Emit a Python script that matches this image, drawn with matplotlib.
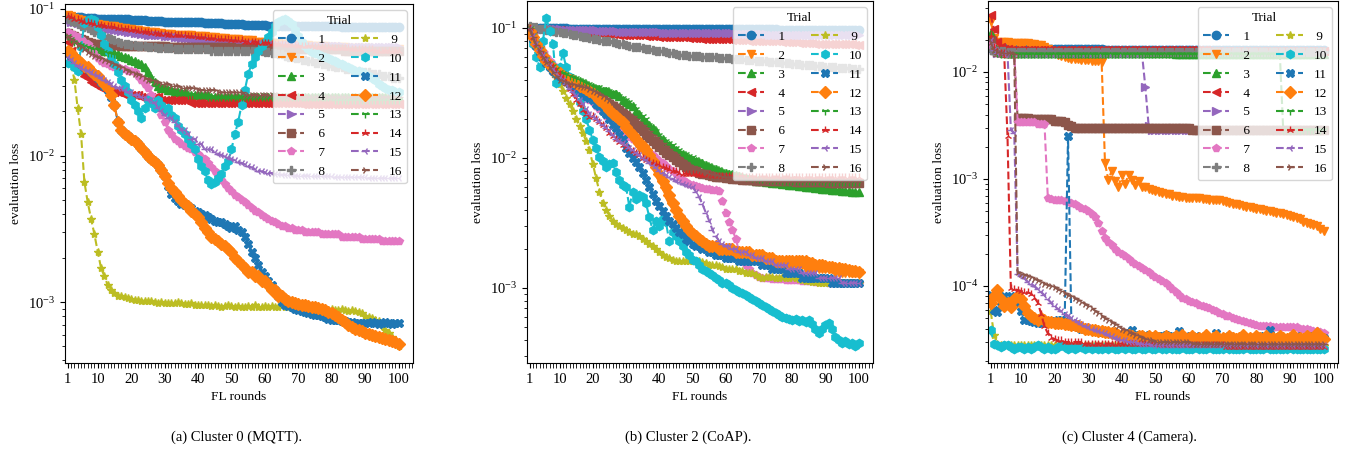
import matplotlib
matplotlib.use('Agg')
import matplotlib.pyplot as plt
from matplotlib.ticker import MultipleLocator, FixedLocator

plt.rcParams['font.family'] = ['Liberation Serif', 'DejaVu Serif']
plt.rcParams['mathtext.fontset'] = 'stix'
plt.rcParams['font.size'] = 9.7

rounds = list(range(1, 101))
trials = [str(i) for i in range(1, 17)]
xtick_vals = [1, 10, 20, 30, 40, 50, 60, 70, 80, 90, 100]
captions = ['(a) Cluster 0 (MQTT).', '(b) Cluster 2 (CoAP).', '(c) Cluster 4 (Camera).']

# ---------------- Cluster 0 (MQTT) ----------------
a1 = [.089,.089,.088,.088,.088,.087,.087,.087,.087,.086,
      .086,.086,.086,.086,.085,.085,.085,.085,.085,.084,
      .084,.084,.084,.084,.083,.083,.083,.083,.083,.082,
      .082,.082,.082,.082,.082,.081,.081,.081,.081,.081,
      .081,.080,.080,.080,.080,.080,.080,.079,.079,.079,
      .079,.079,.079,.078,.078,.078,.078,.078,.078,.078,
      .077,.077,.077,.077,.077,.077,.077,.077,.077,.077,
      .076,.076,.076,.076,.076,.076,.076,.076,.076,.076,
      .076,.076,.075,.075,.075,.075,.075,.075,.075,.075,
      .075,.075,.075,.075,.075,.075,.075,.075,.075,.075]
a2 = [.091,.089,.087,.085,.084,.083,.082,.081,.080,.079,
      .078,.078,.077,.076,.076,.075,.074,.074,.073,.073,
      .072,.072,.071,.071,.070,.070,.070,.069,.069,.068,
      .068,.068,.067,.067,.067,.066,.066,.066,.065,.065,
      .065,.065,.064,.064,.064,.063,.063,.063,.062,.062,
      .062,.062,.061,.061,.061,.061,.060,.060,.060,.060,
      .059,.059,.059,.059,.058,.058,.058,.058,.057,.057,
      .057,.057,.057,.056,.056,.056,.056,.056,.055,.055,
      .055,.055,.055,.055,.054,.054,.054,.054,.054,.054,
      .054,.053,.053,.053,.053,.053,.053,.053,.053,.053]
a3 = [.070,.067,.064,.062,.060,.058,.057,.056,.055,.054,
      .053,.052,.052,.051,.050,.049,.048,.047,.046,.045,
      .044,.043,.042,.040,.037,.034,.032,.030,.029,.029,
      .028,.028,.027,.027,.027,.027,.026,.026,.026,.026,
      .026,.026,.026,.025,.025,.025,.025,.025,.025,.025,
      .025,.025,.025,.025,.025,.025,.025,.025,.025,.025,
      .025,.025,.025,.025,.025,.025,.025,.025,.025,.025,
      .025,.025,.025,.025,.025,.025,.025,.025,.025,.025,
      .025,.025,.025,.025,.025,.025,.025,.025,.025,.025,
      .025,.025,.025,.025,.025,.025,.025,.025,.025,.025]
a4 = [.060,.052,.045,.040,.037,.035,.034,.032,.031,.030,
      .029,.029,.028,.028,.027,.027,.027,.026,.026,.026,
      .026,.026,.025,.025,.025,.025,.025,.025,.024,.024,
      .024,.024,.024,.024,.024,.024,.024,.023,.023,.023,
      .023,.023,.023,.023,.023,.023,.023,.023,.023,.023,
      .023,.023,.023,.023,.023,.023,.023,.023,.023,.023,
      .023,.023,.023,.023,.023,.023,.023,.023,.023,.023,
      .0225,.0225,.0225,.0225,.0225,.0225,.0225,.0225,.0225,.0225,
      .0225,.0225,.0225,.0225,.0225,.0225,.0225,.0225,.0225,.0225,
      .0225,.0225,.0225,.0225,.0225,.0225,.0225,.0225,.0225,.0225]
a5 = [.084,.082,.081,.080,.079,.078,.077,.076,.076,.075,
      .074,.074,.073,.073,.072,.072,.071,.071,.070,.070,
      .069,.069,.068,.068,.067,.067,.066,.066,.066,.065,
      .065,.065,.064,.064,.063,.063,.063,.062,.062,.062,
      .061,.061,.061,.060,.060,.060,.060,.059,.059,.059,
      .059,.059,.058,.058,.058,.058,.058,.058,.058,.058,
      .057,.057,.057,.057,.057,.057,.057,.057,.057,.057,
      .057,.056,.056,.056,.056,.056,.056,.056,.056,.056,
      .056,.056,.056,.055,.055,.055,.055,.055,.055,.055,
      .055,.055,.055,.055,.055,.055,.055,.055,.055,.055]
a6 = [.069,.067,.065,.063,.062,.061,.060,.059,.058,.058,
      .058,.057,.057,.057,.057,.057,.056,.056,.056,.056,
      .056,.056,.056,.056,.056,.056,.056,.056,.056,.056,
      .055,.055,.055,.055,.055,.055,.055,.055,.055,.055,
      .055,.055,.055,.055,.055,.055,.055,.055,.055,.055,
      .054,.054,.054,.054,.054,.054,.054,.054,.054,.054,
      .054,.054,.054,.054,.054,.053,.053,.053,.053,.053,
      .053,.053,.053,.053,.053,.053,.053,.053,.053,.053,
      .053,.053,.053,.052,.052,.052,.052,.052,.052,.052,
      .052,.052,.052,.052,.052,.052,.052,.052,.052,.052]
a7 = [.070,.068,.066,.064,.062,.060,.058,.054,.050,.046,
      .044,.043,.042,.041,.040,.040,.039,.039,.038,.038,
      .037,.035,.033,.031,.029,.026,.023,.021,.019,.017,
      .015,.014,.013,.0125,.012,.0117,.0113,.011,.0106,.0102,
      .0098,.0094,.0089,.0084,.0079,.0073,.0068,.0064,.0060,.0057,
      .0054,.0052,.0050,.0048,.0046,.0044,.0042,.0041,.0039,.0038,
      .0037,.0036,.0035,.0034,.0033,.0033,.0032,.0032,.0031,.0031,
      .0031,.0030,.0030,.0030,.0030,.0030,.0029,.0029,.0029,.0029,
      .0029,.0029,.0028,.0028,.0028,.0028,.0028,.0028,.0027,.0027,
      .0027,.0027,.0027,.0027,.0026,.0026,.0026,.0026,.0026,.0026]
a8 = [.085,.083,.081,.079,.077,.075,.074,.072,.070,.069,
      .067,.065,.063,.062,.061,.060,.059,.058,.058,.057,
      .057,.056,.056,.056,.055,.055,.055,.054,.054,.054,
      .054,.054,.053,.053,.053,.053,.053,.053,.053,.053,
      .053,.053,.053,.052,.052,.052,.052,.052,.052,.052,
      .052,.052,.052,.052,.052,.052,.052,.052,.052,.051,
      .051,.050,.050,.049,.049,.048,.047,.047,.046,.046,
      .045,.045,.044,.044,.043,.043,.042,.042,.041,.041,
      .040,.040,.040,.039,.039,.038,.038,.038,.037,.037,
      .037,.036,.036,.036,.035,.035,.035,.034,.034,.034]
a9 = [.050,.042,.033,.021,.014,.0066,.0048,.0037,.0029,.0022,
      .0017,.0015,.0013,.0012,.00115,.0011,.0011,.00108,.00106,.00105,
      .00104,.00103,.00102,.00102,.00101,.00101,.0010,.00099,.0010,.00099,
      .00099,.00098,.00099,.0010,.00098,.00097,.00097,.00098,.00096,.00096,
      .00095,.00096,.00095,.00094,.00095,.00094,.00093,.00094,.00095,.00094,
      .00093,.00094,.00093,.00092,.00094,.00093,.00095,.00093,.00092,.00094,
      .00093,.00094,.00092,.00093,.00095,.00092,.00092,.00091,.00093,.00092,
      .00091,.00092,.00091,.0009,.00091,.0009,.00091,.0009,.00089,.0009,
      .00089,.00088,.0009,.00088,.00087,.00088,.00087,.00086,.00084,.0008,
      .00079,.00078,.00076,.00074,.0007,.00064,.00062,.00058,.00054,.0005]
a10 = [.043,.047,.040,.038,.055,.080,.084,.085,.084,.075,
       .066,.058,.052,.047,.042,.037,.033,.030,.027,.024,
       .022,.020,.018,.021,.024,.023,.021,.024,.022,.020,
       .021,.019,.018,.016,.015,.014,.013,.012,.011,.0095,
       .0085,.0078,.0068,.0064,.0066,.0070,.0075,.0085,.0092,.011,
       .014,.017,.022,.028,.036,.042,.047,.052,.056,.060,
       .064,.070,.076,.081,.084,.085,.083,.079,.072,.065,
       .060,.056,.053,.051,.050,.049,.048,.047,.046,.045,
       .044,.043,.042,.041,.040,.039,.038,.038,.037,.036,
       .035,.034,.033,.031,.030,.029,.028,.028,.027,.027]
a11 = [.050,.048,.046,.044,.042,.040,.039,.037,.036,.034,
       .032,.030,.028,.025,.022,.017,.015,.014,.0135,.013,
       .0125,.012,.0112,.0105,.0100,.0095,.0090,.0086,.0080,.0072,
       .0062,.0055,.0051,.0049,.0047,.0046,.0045,.0044,.0042,.0041,
       .0040,.0039,.0038,.0037,.0036,.0035,.0035,.0034,.0033,.0032,
       .0033,.0031,.0030,.0028,.0025,.0022,.0020,.0018,.0016,.0015,
       .0014,.0013,.0012,.0011,.00100,.00096,.00094,.00092,.00090,.00088,
       .00087,.00085,.00084,.00083,.00082,.00081,.0008,.00079,.00077,.00076,
       .00075,.00075,.00074,.00074,.00073,.00073,.00072,.00072,.00072,.00072,
       .00072,.00073,.00072,.00071,.00072,.00073,.00072,.00071,.00072,.00072]
a12 = [.052,.050,.047,.045,.043,.041,.040,.038,.036,.035,
       .033,.031,.029,.026,.022,.017,.015,.014,.0135,.013,
       .0125,.012,.0112,.0105,.010,.0095,.009,.0086,.0080,.0072,
       .0065,.0060,.0056,.0053,.0050,.0047,.0045,.0042,.0040,.0038,
       .0035,.0032,.0030,.0028,.0027,.0026,.0025,.0024,.0023,.0022,
       .0020,.0019,.0018,.0017,.0016,.0016,.0015,.0015,.0014,.0014,
       .0013,.0012,.0012,.0011,.0011,.00105,.00102,.0010,.00098,.00097,
       .00096,.00095,.00094,.00093,.00092,.00091,.0009,.00088,.00086,.00084,
       .00081,.00079,.00076,.00073,.0007,.00068,.00066,.00064,.00063,.00062,
       .00061,.0006,.00059,.00058,.00057,.00056,.00055,.00054,.00053,.00052]
a13 = [.065,.062,.060,.058,.057,.056,.055,.054,.053,.053,
       .052,.051,.050,.050,.049,.048,.047,.046,.045,.044,
       .043,.042,.041,.039,.036,.034,.032,.031,.030,.029,
       .029,.028,.028,.027,.027,.027,.026,.026,.026,.026,
       .026,.026,.025,.025,.025,.025,.025,.025,.025,.025,
       .025,.025,.025,.025,.025,.025,.025,.025,.025,.025,
       .025,.025,.025,.025,.025,.025,.025,.025,.025,.025,
       .025,.025,.025,.025,.025,.025,.025,.025,.025,.025,
       .024,.024,.024,.024,.024,.024,.024,.024,.024,.024,
       .024,.024,.024,.024,.024,.024,.024,.024,.024,.024]
a14 = [.090,.088,.086,.085,.083,.082,.081,.080,.079,.078,
       .078,.077,.076,.076,.075,.074,.074,.073,.073,.072,
       .072,.071,.071,.070,.070,.069,.069,.068,.068,.068,
       .067,.067,.067,.066,.066,.066,.065,.065,.065,.064,
       .064,.064,.063,.063,.063,.062,.062,.062,.062,.061,
       .061,.061,.061,.060,.060,.060,.060,.059,.059,.059,
       .059,.058,.058,.058,.058,.057,.057,.057,.057,.056,
       .056,.056,.056,.056,.055,.055,.055,.055,.055,.054,
       .054,.054,.054,.054,.054,.053,.053,.053,.053,.053,
       .053,.053,.052,.052,.052,.052,.052,.052,.052,.052]
a15 = [.047,.045,.043,.041,.040,.039,.038,.037,.036,.035,
       .034,.033,.032,.031,.030,.029,.029,.028,.027,.027,
       .026,.026,.025,.025,.024,.024,.023,.021,.020,.019,
       .018,.018,.017,.016,.015,.015,.014,.013,.013,.012,
       .012,.011,.011,.011,.0105,.0103,.0101,.0099,.0097,.0095,
       .0093,.0091,.0089,.0087,.0085,.0083,.0081,.0079,.0078,.0077,
       .0076,.0076,.0075,.0075,.0074,.0074,.0074,.0074,.0073,.0073,
       .0073,.0073,.0073,.0072,.0072,.0072,.0072,.0072,.0072,.0072,
       .0071,.0071,.0071,.0071,.0071,.0071,.0071,.0071,.0071,.0071,
       .0070,.0070,.0070,.0070,.0070,.0070,.0070,.0070,.0070,.0070]
a16 = [.065,.062,.060,.057,.055,.053,.051,.049,.048,.047,
       .046,.045,.044,.043,.042,.041,.040,.039,.038,.037,
       .036,.036,.035,.034,.033,.033,.032,.032,.031,.031,
       .031,.030,.030,.030,.029,.029,.029,.029,.029,.028,
       .028,.028,.028,.028,.028,.027,.027,.027,.027,.027,
       .027,.027,.027,.026,.026,.026,.026,.026,.026,.026,
       .026,.026,.026,.026,.025,.025,.025,.025,.025,.025,
       .025,.025,.025,.025,.025,.025,.025,.025,.025,.025,
       .025,.025,.025,.025,.025,.025,.025,.025,.025,.025,
       .025,.025,.025,.025,.025,.025,.025,.025,.025,.025]

# ---------------- Cluster 2 (CoAP) ----------------
b1 = [.100,.100,.100,.100,.100,.100,.100,.100,.100,.100,
      .100,.100,.099,.099,.099,.099,.099,.099,.099,.099,
      .099,.099,.099,.099,.099,.099,.099,.099,.099,.099,
      .099,.099,.099,.099,.099,.098,.098,.098,.098,.098,
      .098,.098,.098,.098,.098,.098,.098,.098,.098,.098,
      .098,.098,.098,.098,.098,.098,.098,.098,.098,.098,
      .098,.098,.098,.098,.098,.098,.098,.098,.098,.098,
      .098,.098,.098,.098,.098,.097,.097,.097,.097,.097,
      .097,.097,.097,.097,.097,.097,.097,.097,.097,.097,
      .097,.097,.097,.097,.097,.097,.097,.097,.097,.097]
b2 = [.095,.083,.074,.066,.060,.055,.051,.048,.046,.044,
      .042,.040,.039,.038,.036,.035,.034,.032,.031,.030,
      .028,.027,.025,.024,.022,.021,.020,.019,.018,.0165,
      .015,.014,.013,.012,.0113,.0105,.0097,.0088,.0078,.0069,
      .0061,.0054,.0047,.0041,.0037,.0033,.0030,.0028,.0026,.0025,
      .0024,.0023,.0022,.0021,.0020,.0020,.0020,.0019,.0019,.0019,
      .0019,.0019,.0018,.0018,.0018,.0018,.0018,.0017,.0017,.0017,
      .0017,.0016,.0016,.0016,.0016,.0015,.0015,.0015,.0015,.0015,
      .0015,.0015,.0015,.0014,.0014,.0014,.0014,.0014,.0014,.0014,
      .0014,.0014,.0013,.0013,.0013,.0013,.0013,.0013,.0013,.0013]
b3 = [.100,.085,.075,.068,.062,.057,.053,.050,.047,.045,
      .044,.043,.042,.041,.040,.039,.038,.037,.036,.035,
      .034,.034,.033,.033,.032,.031,.031,.030,.028,.027,
      .026,.025,.023,.022,.020,.019,.018,.017,.016,.0145,
      .014,.013,.0125,.012,.0115,.011,.0107,.0103,.0100,.0097,
      .0095,.0093,.0091,.0089,.0086,.0084,.0082,.0080,.0078,.0077,
      .0076,.0075,.0074,.0073,.0071,.0070,.0069,.0068,.0067,.0066,
      .0066,.0065,.0065,.0064,.0064,.0064,.0063,.0063,.0062,.0062,
      .0062,.0061,.0061,.0060,.0060,.0060,.0059,.0059,.0058,.0058,
      .0058,.0057,.0057,.0057,.0056,.0056,.0056,.0055,.0055,.0055]
b4 = [.100,.099,.099,.098,.098,.097,.097,.097,.096,.096,
      .095,.095,.095,.094,.094,.093,.093,.093,.092,.092,
      .092,.091,.091,.091,.090,.090,.090,.089,.089,.089,
      .089,.088,.088,.088,.088,.087,.087,.087,.087,.086,
      .086,.086,.086,.085,.085,.085,.085,.085,.084,.084,
      .084,.084,.083,.083,.083,.083,.083,.082,.082,.082,
      .082,.081,.081,.081,.081,.081,.080,.080,.080,.080,
      .080,.079,.079,.079,.079,.079,.078,.078,.078,.078,
      .078,.077,.077,.077,.077,.077,.076,.076,.076,.076,
      .076,.075,.075,.075,.075,.075,.075,.075,.074,.074]
b5 = [.100,.100,.099,.099,.099,.098,.098,.098,.098,.098,
      .097,.097,.097,.097,.097,.096,.096,.096,.096,.096,
      .096,.095,.095,.095,.095,.095,.095,.094,.094,.094,
      .094,.094,.094,.093,.093,.093,.093,.093,.093,.093,
      .092,.092,.092,.092,.092,.092,.092,.092,.092,.092,
      .092,.092,.092,.091,.091,.091,.091,.091,.091,.091,
      .091,.091,.090,.090,.090,.090,.090,.090,.090,.090,
      .090,.090,.089,.089,.089,.089,.089,.089,.089,.089,
      .089,.089,.089,.089,.089,.088,.088,.088,.088,.088,
      .088,.088,.088,.088,.088,.088,.088,.088,.088,.088]
b6 = [.100,.087,.076,.068,.062,.057,.052,.048,.045,.042,
      .040,.039,.038,.037,.036,.035,.034,.033,.032,.031,
      .030,.029,.028,.027,.026,.025,.024,.023,.022,.021,
      .020,.019,.018,.017,.016,.015,.0142,.0135,.0128,.0121,
      .0115,.011,.0105,.0101,.0097,.0093,.0089,.0086,.0083,.0081,
      .0079,.0077,.0076,.0075,.0074,.0073,.0072,.0071,.0071,.0070,
      .0070,.0069,.0069,.0069,.0068,.0068,.0068,.0068,.0067,.0067,
      .0067,.0067,.0067,.0066,.0066,.0066,.0066,.0066,.0066,.0066,
      .0065,.0065,.0065,.0065,.0065,.0065,.0065,.0065,.0065,.0065,
      .0064,.0064,.0064,.0064,.0064,.0064,.0064,.0064,.0064,.0064]
b7 = [.100,.088,.078,.070,.065,.060,.056,.052,.048,.045,
      .043,.041,.039,.037,.035,.033,.031,.030,.028,.027,
      .025,.024,.023,.021,.020,.019,.018,.017,.016,.015,
      .0145,.014,.0135,.013,.012,.0115,.011,.0105,.010,.0095,
      .0091,.0087,.0083,.0079,.0075,.0071,.0068,.0065,.0063,.0062,
      .0061,.0060,.0059,.0058,.0058,.0057,.0057,.0056,.0047,.0038,
      .0032,.0028,.0024,.0019,.0016,.0015,.0014,.0013,.00125,.00122,
      .0012,.0012,.00119,.00118,.00118,.00117,.00117,.00116,.00116,.00116,
      .00115,.00115,.00114,.00114,.00113,.00113,.00112,.00112,.00111,.00111,
      .0011,.0011,.0011,.0011,.00109,.00109,.00109,.00109,.00109,.00109]
b8 = [.103,.102,.101,.099,.0985,.097,.096,.095,.094,.093,
      .092,.091,.090,.089,.088,.087,.086,.085,.084,.083,
      .082,.081,.080,.080,.079,.078,.077,.076,.075,.074,
      .073,.072,.072,.071,.070,.069,.069,.068,.067,.066,
      .066,.065,.064,.064,.063,.062,.062,.062,.061,.061,
      .061,.061,.060,.060,.060,.060,.060,.059,.059,.059,
      .059,.058,.058,.058,.058,.057,.057,.057,.056,.056,
      .056,.056,.055,.055,.055,.055,.054,.054,.054,.053,
      .053,.053,.052,.052,.052,.052,.051,.051,.051,.050,
      .050,.050,.050,.049,.049,.049,.049,.048,.048,.048]
b9 = [.100,.088,.078,.070,.062,.055,.050,.046,.042,.037,
      .033,.029,.026,.023,.020,.0175,.0155,.0135,.0115,.0090,
      .0070,.0055,.0045,.0040,.0036,.0033,.0031,.0030,.0029,.0028,
      .0027,.0026,.0026,.0025,.0024,.0023,.0022,.0021,.0020,.0019,
      .0018,.00174,.0017,.00165,.0016,.0016,.0016,.0016,.0016,.0016,
      .0016,.0016,.00158,.00155,.0015,.0015,.0015,.00148,.00145,.0014,
      .0014,.0014,.0014,.00135,.00135,.0013,.0013,.0013,.00125,.00122,
      .0012,.00122,.00122,.00121,.0012,.0012,.00121,.0012,.0012,.00122,
      .0012,.00118,.00116,.00114,.00113,.00112,.00111,.0011,.00109,.00109,
      .00109,.0011,.0011,.00109,.00109,.0011,.0011,.0011,.0011,.0011]
b10 = [.096,.075,.060,.050,.080,.120,.095,.076,.038,.050,
       .064,.050,.042,.036,.032,.027,.023,.020,.0165,.0138,
       .012,.0102,.0095,.0085,.009,.0092,.0078,.0068,.0062,.006,
       .0042,.0055,.0048,.0052,.005,.0045,.0035,.0028,.0033,.0030,
       .0034,.0032,.0023,.0027,.0025,.0023,.0021,.0019,.0018,.00164,
       .0016,.0015,.0014,.00135,.0013,.00125,.0012,.00115,.0011,.0011,
       .00105,.0010,.00097,.00094,.00091,.00088,.00085,.00082,.0008,.00077,
       .00074,.00072,.00069,.00066,.00064,.00062,.0006,.00059,.00058,.00057,
       .00058,.00056,.00057,.00055,.00057,.00053,.00048,.00045,.00048,.00052,
       .00054,.00048,.00042,.0004,.00038,.00039,.00037,.00038,.00036,.00038]
b11 = [.095,.083,.073,.065,.059,.054,.050,.047,.045,.043,
       .041,.039,.037,.035,.034,.032,.031,.030,.029,.028,
       .026,.025,.023,.022,.020,.018,.017,.015,.014,.012,
       .011,.010,.0093,.0085,.0077,.0068,.0060,.0053,.0047,.0043,
       .0039,.0036,.0033,.0031,.0029,.0027,.0026,.0024,.0023,.0022,
       .0021,.0021,.0020,.0020,.0019,.0019,.0018,.0018,.0018,.0017,
       .0017,.0017,.0017,.0016,.0016,.0016,.0016,.0016,.0016,.0016,
       .0015,.0015,.0015,.0014,.0014,.0014,.0014,.0013,.0013,.0013,
       .0013,.0013,.0012,.0012,.0012,.0012,.0012,.0012,.0012,.0012,
       .0012,.0011,.0011,.0011,.0011,.0011,.0011,.0011,.0011,.0011]
b12 = [.095,.085,.076,.068,.061,.056,.052,.049,.047,.045,
       .043,.041,.040,.039,.038,.036,.035,.034,.033,.0316,
       .030,.028,.027,.025,.0234,.022,.021,.020,.019,.0174,
       .016,.015,.014,.013,.0123,.0115,.0105,.0095,.0085,.0075,
       .0067,.0060,.0052,.0045,.0040,.0036,.0033,.0030,.0028,.0026,
       .0025,.0024,.0023,.0022,.0021,.0021,.0021,.0020,.0020,.0020,
       .0020,.0020,.0019,.0019,.0019,.0019,.0019,.0018,.0018,.0018,
       .0018,.0017,.0017,.0017,.0016,.0016,.0016,.0016,.0016,.0016,
       .0016,.0016,.0016,.0016,.00155,.00155,.0015,.0015,.0015,.00148,
       .00146,.00145,.00143,.00142,.0014,.0014,.00138,.00136,.00135,.00133]
b13 = [.100,.088,.077,.069,.063,.058,.054,.051,.048,.046,
       .045,.044,.043,.042,.041,.040,.039,.038,.037,.036,
       .035,.035,.034,.034,.033,.032,.031,.030,.029,.028,
       .027,.025,.024,.022,.021,.020,.018,.017,.016,.015,
       .014,.0135,.013,.0125,.012,.0115,.011,.0107,.0104,.0101,
       .0098,.0095,.0092,.0090,.0088,.0086,.0084,.0082,.0080,.0078,
       .0077,.0076,.0075,.0074,.0073,.0072,.0071,.0070,.0070,.0069,
       .0069,.0069,.0068,.0068,.0068,.0068,.0067,.0067,.0067,.0067,
       .0067,.0066,.0066,.0066,.0066,.0066,.0066,.0066,.0066,.0065,
       .0065,.0065,.0065,.0065,.0065,.0065,.0065,.0065,.0065,.0065]
b14 = [.100,.085,.075,.068,.062,.057,.053,.050,.047,.044,
       .041,.038,.034,.031,.028,.026,.0234,.022,.0207,.021,
       .020,.019,.018,.017,.0155,.0148,.014,.0133,.0127,.0122,
       .0117,.0113,.011,.0105,.010,.0097,.0095,.0092,.009,.0088,
       .0086,.0084,.0082,.0080,.0079,.0077,.0076,.0076,.0075,.0075,
       .0075,.0074,.0074,.0074,.0074,.0073,.0073,.0073,.0073,.0073,
       .0073,.0073,.0073,.0073,.0073,.0072,.0072,.0072,.0072,.0072,
       .0072,.0072,.0072,.0072,.0072,.0072,.0072,.0072,.0072,.0072,
       .0071,.0071,.0071,.0071,.0071,.0071,.0071,.0071,.0071,.0071,
       .0071,.0071,.0071,.0071,.0071,.0071,.0071,.0071,.0071,.0071]
b15 = [.100,.087,.076,.068,.062,.057,.052,.048,.045,.042,
       .040,.037,.034,.032,.030,.028,.026,.024,.022,.021,
       .020,.019,.018,.017,.016,.015,.014,.0135,.013,.0125,
       .012,.0115,.011,.0105,.010,.0096,.0092,.0088,.0084,.0080,
       .0077,.0074,.0071,.0069,.0067,.0065,.0063,.0062,.0061,.0060,
       .0055,.0050,.0044,.0038,.0033,.0028,.0025,.0023,.0022,.0021,
       .0021,.0020,.0020,.0019,.0019,.0019,.0018,.0018,.0017,.0017,
       .0017,.0016,.0016,.0016,.0015,.0015,.0015,.0015,.0014,.0014,
       .0014,.0014,.0013,.0013,.0013,.0013,.0013,.0012,.0012,.0012,
       .0012,.0012,.0012,.0012,.0011,.0011,.0011,.0011,.0011,.0011]
b16 = [.100,.085,.074,.066,.060,.055,.050,.046,.043,.040,
       .039,.038,.037,.037,.036,.036,.035,.035,.034,.033,
       .032,.031,.030,.029,.028,.027,.026,.025,.024,.023,
       .022,.021,.020,.019,.018,.017,.016,.015,.0145,.0138,
       .013,.0124,.0118,.0112,.0107,.0102,.0097,.0093,.0089,.0085,
       .0083,.0081,.0079,.0077,.0076,.0075,.0074,.0073,.0072,.0071,
       .0071,.0070,.0070,.0069,.0069,.0069,.0068,.0068,.0068,.0068,
       .0068,.0067,.0067,.0067,.0067,.0067,.0067,.0067,.0067,.0067,
       .0066,.0066,.0066,.0066,.0066,.0066,.0066,.0066,.0066,.0066,
       .0066,.0066,.0066,.0066,.0066,.0066,.0066,.0066,.0066,.0066]

# ---------------- Cluster 4 (Camera) ----------------
c1 = [.0168,.0167,.0167,.0166,.0166,.0166,.0165,.0165,.0165,.0165,
      .0165,.0165,.0164,.0164,.0164,.0164,.0164,.0164,.0164,.0163,
      .0163,.0163,.0163,.0163,.0163,.0163,.0163,.0163,.0163,.0163,
      .0163,.0163,.0163,.0163,.0162,.0162,.0162,.0162,.0162,.0162,
      .0162,.0162,.0162,.0162,.0162,.0162,.0162,.0162,.0162,.0162,
      .0162,.0162,.0162,.0162,.0162,.0161,.0161,.0161,.0161,.0161,
      .0161,.0161,.0161,.0161,.0161,.0161,.0161,.0161,.0161,.0161,
      .0161,.0161,.0161,.0161,.0161,.0160,.0160,.0160,.0160,.0160,
      .0160,.0160,.0160,.0160,.0160,.0160,.0160,.0160,.0160,.0160,
      .0160,.0160,.0160,.0160,.0160,.0160,.0160,.0160,.0160,.0160]
c2 = [.030,.021,.019,.019,.019,.019,.0188,.0188,.0186,.0186,
      .0185,.0185,.0184,.0183,.018,.0177,.0172,.0165,.0158,.015,
      .0145,.014,.0137,.0135,.0133,.0132,.0131,.013,.013,.0129,
      .0128,.0127,.0126,.0124,.0014,.00098,.0012,.00095,.00084,.0011,
      .0009,.0011,.00098,.00088,.00095,.00085,.00084,.0008,.00079,.00077,
      .00076,.00074,.00073,.00072,.0007,.00069,.00068,.00068,.00067,.00067,
      .00066,.00066,.00066,.00065,.00065,.00064,.00064,.00063,.00063,.00062,
      .00061,.0006,.00059,.00058,.00057,.00056,.00055,.00055,.00054,.00053,
      .00052,.00051,.0005,.0005,.00049,.00048,.00048,.00047,.00046,.00045,
      .00044,.00043,.00042,.0004,.00039,.00038,.00037,.00036,.00034,.00033]
c3 = [.023,.018,.016,.0155,.0153,.0152,.0151,.0151,.0150,.0150,
      .0150,.0150,.0150,.0150,.0150,.0150,.0150,.0150,.0150,.0150,
      .0150,.0150,.0150,.0150,.0150,.0149,.0149,.0149,.0149,.0149,
      .0149,.0149,.0149,.0149,.0149,.0149,.0149,.0149,.0149,.0149,
      .0149,.0149,.0149,.0149,.0149,.0149,.0149,.0149,.0149,.0149,
      .0149,.0149,.0149,.0149,.0149,.0148,.0148,.0148,.0148,.0148,
      .0148,.0148,.0148,.0148,.0148,.0148,.0148,.0148,.0148,.0148,
      .0148,.0148,.0148,.0148,.0148,.0148,.0148,.0148,.0148,.0148,
      .0148,.0148,.0148,.0148,.0148,.0148,.0148,.0148,.0148,.0148,
      .0148,.0148,.0148,.0148,.0148,.0148,.0148,.0148,.0148,.0148]
c4 = [.034,.025,.019,.017,.0165,.0163,.0162,.0162,.0161,.0161,
      .0161,.0161,.0161,.0161,.0161,.0161,.0160,.0160,.0160,.0160,
      .0160,.0160,.0160,.0160,.0160,.0160,.0160,.0160,.0160,.0160,
      .0160,.0160,.0160,.0160,.0159,.0159,.0159,.0159,.0159,.0159,
      .0159,.0159,.0159,.0159,.0159,.0159,.0159,.0159,.0159,.0159,
      .0159,.0159,.0159,.0159,.0159,.0159,.0159,.0159,.0159,.0159,
      .0159,.0159,.0159,.0159,.0159,.0158,.0158,.0158,.0158,.0158,
      .0158,.0158,.0158,.0158,.0158,.0158,.0158,.0158,.0158,.0158,
      .0158,.0158,.0158,.0158,.0158,.0158,.0158,.0158,.0158,.0158,
      .0158,.0158,.0158,.0158,.0158,.0158,.0158,.0158,.0158,.0158]
c5 = [.019,.016,.0152,.0151,.0151,.0150,.0150,.0150,.0150,.0150,
      .0150,.0150,.0150,.0150,.0150,.0150,.0150,.0150,.0150,.0150,
      .0150,.0150,.0150,.0150,.0150,.0150,.0150,.0150,.0150,.0150,
      .0149,.0149,.0149,.0149,.0149,.0149,.0149,.0149,.0149,.0149,
      .0149,.0149,.0149,.0149,.0149,.0149,.0072,.0031,.0029,.0029,
      .0029,.0029,.0029,.0029,.0029,.0029,.0029,.0029,.0029,.0029,
      .0029,.0029,.0029,.0029,.0029,.0029,.0029,.0029,.0029,.0029,
      .0029,.0029,.0029,.0029,.0029,.0029,.0029,.0029,.0029,.0029,
      .0029,.0029,.0029,.0029,.0029,.0029,.0029,.0029,.0029,.0029,
      .0029,.0029,.0029,.0029,.0029,.0029,.0029,.0029,.0029,.0029]
c6 = [.020,.016,.0155,.0153,.0152,.0152,.0151,.0151,.0037,.0037,
      .0037,.0037,.0036,.0036,.0036,.0036,.0036,.0036,.0036,.0035,
      .0035,.0035,.0034,.0032,.0031,.0030,.0030,.0030,.0030,.0030,
      .0030,.0030,.0030,.0030,.0030,.0030,.0030,.0030,.0030,.0030,
      .0030,.0030,.0030,.0030,.0030,.0030,.0030,.0030,.0030,.0030,
      .0030,.0030,.0030,.0030,.0030,.0030,.0030,.0030,.0030,.0030,
      .0029,.0029,.0029,.0029,.0029,.0029,.0029,.0029,.0029,.0029,
      .0029,.0029,.0029,.0029,.0029,.0029,.0029,.0029,.0029,.0029,
      .0029,.0029,.0029,.0029,.0029,.0029,.0029,.0029,.0029,.0029,
      .0029,.0029,.0029,.0029,.0029,.0029,.0029,.0029,.0029,.0029]
c7 = [.018,.016,.0155,.0153,.0152,.0152,.0151,.0151,.0034,.0034,
      .0034,.0034,.0034,.0034,.0033,.0033,.0033,.00066,.00065,.00064,
      .00064,.00063,.00062,.00061,.0006,.00058,.00056,.00054,.00052,.0005,
      .00047,.00044,.00039,.00033,.00028,.00026,.00024,.00022,.00021,.0002,
      .00019,.000178,.000168,.00016,.000154,.000148,.00014,.000134,.000128,.000122,
      .000117,.000112,.000106,.0001,.000094,.000087,.000082,.000078,.000075,.000073,
      .000071,.000069,.000067,.000065,.000064,.000062,.00006,.000058,.000056,.000055,
      .000053,.000052,.00005,.000049,.000048,.000047,.000046,.000045,.000044,.000043,
      .000042,.000042,.000042,.000042,.000041,.000041,.000041,.000041,.000041,.000041,
      .000041,.000041,.00004,.00004,.00004,.000039,.000038,.000038,.000037,.000036]
c8 = [.0160,.0158,.0157,.0156,.0156,.0155,.0155,.0155,.0155,.0155,
      .0155,.0155,.0155,.0155,.0155,.0155,.0155,.0155,.0155,.0155,
      .0155,.0155,.0155,.0155,.0155,.0154,.0154,.0154,.0154,.0154,
      .0154,.0154,.0154,.0154,.0154,.0154,.0154,.0154,.0154,.0154,
      .0154,.0154,.0154,.0154,.0154,.0154,.0154,.0154,.0154,.0154,
      .0154,.0154,.0154,.0154,.0154,.0154,.0154,.0154,.0154,.0154,
      .0153,.0153,.0153,.0153,.0153,.0153,.0153,.0153,.0153,.0153,
      .0153,.0153,.0153,.0153,.0153,.0153,.0153,.0153,.0153,.0153,
      .0153,.0153,.0153,.0153,.0153,.0153,.0153,.0153,.0153,.0153,
      .0153,.0153,.0153,.0153,.0153,.0153,.0153,.0153,.0153,.0153]
c9 = [.000058,.000035,.000029,.000028,.000028,.000028,.000028,.000028,.000028,.000028,
      .000028,.000028,.000028,.000028,.000028,.000028,.000028,.000028,.000028,.000028,
      .000028,.000028,.000028,.000028,.000028,.000028,.000028,.000028,.000028,.000028,
      .000028,.000028,.000028,.000028,.000028,.000028,.000028,.000028,.000028,.000028,
      .000028,.000028,.000028,.000028,.000028,.000028,.000028,.000028,.000028,.000028,
      .0000275,.0000275,.0000275,.0000275,.0000275,.0000275,.0000275,.0000275,.0000275,.0000275,
      .0000275,.0000275,.0000275,.0000275,.0000275,.0000275,.0000275,.0000275,.0000275,.0000275,
      .0000275,.0000275,.0000275,.0000275,.0000275,.0000275,.0000275,.0000275,.0000275,.0000275,
      .0000275,.0000275,.0000275,.0000275,.0000275,.0000275,.0000275,.0000275,.0000275,.0000275,
      .0000275,.0000275,.0000275,.0000275,.0000275,.0000275,.0000275,.0000275,.0000275,.0000275]
c10 = [.000039,.000029,.000028,.000027,.000028,.000028,.000027,.000026,.000027,.000027,
       .000026,.000027,.000026,.000027,.000028,.000027,.000026,.000027,.000026,.000026,
       .000027,.000028,.000027,.000026,.000027,.000026,.000027,.000027,.000026,.000027,
       .000026,.000027,.000026,.000026,.000027,.000026,.000027,.000026,.000026,.000027,
       .000026,.000027,.000026,.000026,.000027,.000026,.000026,.000027,.000026,.000026,
       .000027,.000026,.000026,.000027,.000026,.000026,.000026,.000027,.000026,.000026,
       .000026,.000027,.000026,.000026,.000026,.000027,.000026,.000026,.000026,.000026,
       .000027,.000026,.000026,.000026,.000026,.000026,.000027,.000026,.000026,.000026,
       .000026,.000026,.000027,.000026,.000026,.000026,.000026,.000026,.000026,.000027,
       .000026,.000026,.000026,.000026,.000026,.000026,.000026,.000026,.000026,.000026]
c11 = [.000083,.00006,.000057,.000065,.00008,.00007,.00008,.000075,.00007,.000058,
       .000048,.000048,.000047,.000046,.000045,.000045,.000045,.000045,.000046,.000047,
       .000048,.000048,.000047,.0025,.000044,.000042,.000041,.00004,.00004,.000039,
       .000039,.000038,.000038,.000037,.000037,.000036,.000036,.000036,.000035,.000035,
       .000035,.000036,.000039,.000035,.000034,.000034,.000035,.000034,.000034,.000034,
       .000034,.000034,.000035,.000034,.000034,.000034,.000038,.000034,.000034,.000033,
       .000033,.000034,.000033,.000033,.000034,.000033,.000033,.000036,.000033,.000033,
       .000033,.000034,.000033,.000033,.000033,.000034,.000033,.000033,.000033,.000033,
       .000034,.000033,.000033,.000039,.000033,.000033,.000034,.000033,.000033,.000033,
       .000033,.000034,.000033,.000033,.000033,.000033,.000034,.000033,.000033,.000033]
c12 = [.000069,.00008,.000092,.000075,.000065,.00007,.000064,.000075,.00008,.000076,
       .000065,.000056,.000052,.00005,.000048,.00005,.000048,.000046,.000046,.000045,
       .000045,.000045,.000044,.000044,.000043,.000043,.000042,.000041,.00004,.00004,
       .000039,.000039,.000038,.000038,.000037,.000037,.000036,.000036,.000035,.000035,
       .000034,.000035,.000034,.000033,.000034,.000034,.000033,.000034,.000033,.000034,
       .000033,.000032,.000034,.000033,.000032,.000034,.000033,.000035,.000032,.000033,
       .000034,.000032,.000033,.000033,.000035,.000032,.000033,.000034,.000032,.000033,
       .000032,.000034,.000033,.000032,.000033,.000035,.000032,.000033,.000032,.000034,
       .000033,.000032,.000034,.000032,.000033,.000032,.000034,.000033,.000032,.000033,
       .000035,.000032,.000033,.000032,.000034,.000033,.000032,.000036,.000032,.000032]
c13 = [.021,.016,.0150,.0148,.0148,.0148,.0148,.0148,.0148,.0148,
       .0148,.0148,.0148,.0148,.0148,.0148,.0148,.0148,.0148,.0148,
       .0148,.0148,.0148,.0148,.0148,.0148,.0148,.0148,.0148,.0148,
       .0148,.0148,.0148,.0148,.0148,.0148,.0148,.0148,.0148,.0148,
       .0148,.0148,.0148,.0148,.0148,.0148,.0148,.0148,.0148,.0148,
       .0148,.0148,.0148,.0148,.0148,.0148,.0148,.0148,.0148,.0148,
       .0147,.0147,.0147,.0147,.0147,.0147,.0147,.0147,.0147,.0147,
       .0147,.0147,.0147,.0147,.0147,.0147,.0147,.0147,.0147,.0147,
       .0147,.0147,.0147,.0147,.0147,.0147,.0147,.0029,.0029,.0029,
       .0029,.0029,.0029,.0029,.0029,.0029,.0029,.0029,.0029,.0029]
c14 = [.022,.017,.0155,.0152,.0151,.0025,.000095,.000093,.000092,.00009,
       .000088,.000087,.000085,.000078,.00007,.000055,.000042,.000036,.000033,.000032,
       .000031,.000031,.00003,.00003,.00003,.00003,.00003,.00003,.000029,.000029,
       .000029,.000029,.000029,.000029,.000029,.000029,.000029,.000029,.000029,.000029,
       .000029,.000029,.000029,.000029,.000029,.000029,.000029,.000029,.000029,.000029,
       .000028,.000028,.000028,.000028,.000028,.000028,.000028,.000028,.000028,.000028,
       .000028,.000028,.000028,.000028,.000028,.000028,.000028,.000028,.000028,.000028,
       .000027,.000027,.000027,.000027,.000027,.000027,.000027,.000027,.000027,.000027,
       .000027,.000027,.000027,.000027,.000027,.000027,.000027,.000027,.000027,.000027,
       .000027,.000027,.000027,.000027,.000027,.000027,.000027,.000027,.000027,.000027]
c15 = [.020,.016,.0152,.0151,.0150,.0150,.0029,.0027,.00013,.000125,
       .000118,.00011,.000105,.0001,.000094,.000088,.000082,.000075,.00007,.000065,
       .000061,.000058,.000055,.000053,.00005,.000048,.000046,.000044,.000042,.000041,
       .00004,.000039,.000038,.000037,.000036,.000035,.000034,.000033,.000032,.000031,
       .000031,.00003,.00003,.00003,.000029,.000029,.000029,.000029,.000028,.000028,
       .000028,.000028,.000028,.000028,.000028,.000028,.000028,.000028,.000028,.000028,
       .000028,.000028,.000028,.000028,.000028,.000028,.000028,.000028,.000028,.000028,
       .000028,.000028,.000028,.000028,.000028,.000028,.000028,.000028,.000028,.000028,
       .000028,.000028,.000028,.000028,.000028,.000028,.000028,.000028,.000028,.000028,
       .000028,.000028,.000028,.000028,.000028,.000028,.000028,.000028,.000028,.000028]
c16 = [.019,.016,.0153,.0151,.0150,.0150,.0150,.0148,.000135,.00013,
       .000128,.000125,.000121,.000117,.000113,.000109,.000105,.000102,.0001,.000097,
       .000093,.00009,.000086,.000082,.00008,.000077,.000074,.000071,.000068,.000065,
       .000062,.000059,.000056,.000053,.00005,.000048,.000046,.000044,.000042,.00004,
       .000039,.000037,.000036,.000035,.000034,.000033,.000032,.000031,.000031,.00003,
       .00003,.00003,.00003,.00003,.00003,.00003,.00003,.00003,.00003,.00003,
       .000029,.000029,.000029,.000029,.000029,.000029,.000029,.000029,.000029,.000029,
       .000029,.000029,.000029,.000029,.000029,.000029,.000029,.000029,.000029,.000029,
       .0000285,.0000285,.0000285,.0000285,.0000285,.0000285,.0000285,.0000285,.0000285,.0000285,
       .0000285,.0000285,.0000285,.0000285,.0000285,.0000285,.0000285,.0000285,.0000285,.0000285]

panel_a = [a1, a2, a3, a4, a5, a6, a7, a8, a9, a10, a11, a12, a13, a14, a15, a16]
panel_b = [b1, b2, b3, b4, b5, b6, b7, b8, b9, b10, b11, b12, b13, b14, b15, b16]
panel_c = [c1, c2, c3, c4, c5, c6, c7, c8, c9, c10, c11, c12, c13, c14, c15, c16]

tab10 = ['#1f77b4', '#ff7f0e', '#2ca02c', '#d62728', '#9467bd',
         '#8c564b', '#e377c2', '#7f7f7f', '#bcbd22', '#17becf']
colors = tab10 + tab10[:6]
markers = ['o', 'v', '^', '<', '>', 's', 'p', 'P', '*', 'h', 'X', 'D', '1', '2', '3', '4']
styles = ['--'] * 16

fig = plt.figure(figsize=(13.5, 4.65), dpi=100)
W, H = 1350.0, 465.0
boxes = [(65, 4, 413, 363), (527, 1, 873, 363), (988, 1, 1338, 363)]
ylims = [(3.84e-4, 0.1082), (2.65e-4, 0.1614), (1.907e-5, 0.0461)]
cap_x = [237, 688, 1130]

for k, data in enumerate([panel_a, panel_b, panel_c]):
    x0, y0, x1, y1 = boxes[k]
    ax = fig.add_axes([x0 / W, 1 - y1 / H, (x1 - x0) / W, (y1 - y0) / H])
    for i, vals in enumerate(data):
        lab = trials[i] if len(trials[i]) == 2 else ' ' + trials[i] + ' '
        ax.plot(rounds[:len(vals)], vals, color=colors[i], marker=markers[i],
                linestyle=styles[i], lw=1.5, ms=6, label=lab)
    ax.set_yscale('log')
    ax.set_ylim(*ylims[k])
    ax.set_xlim(0.2, 104.3)
    ax.xaxis.set_major_locator(FixedLocator(xtick_vals))
    ax.xaxis.set_minor_locator(MultipleLocator(1))
    ax.tick_params(axis='both', which='both', direction='out', labelsize=10.5)
    ax.tick_params(axis='x', which='major', length=3.5)
    ax.tick_params(axis='x', which='minor', length=3.5)
    ax.set_xlabel('FL rounds', fontsize=9.7)
    ax.set_ylabel('evaluation loss', fontsize=9.7)
    ax.legend(title='Trial', ncol=2, loc='upper right', fontsize=9.5,
              title_fontsize=9.5, handletextpad=0.8, columnspacing=1.75,
              borderaxespad=0.45, labelspacing=0.5)
    fig.text(cap_x[k] / W, 1 - 437 / H, captions[k], ha='center', va='center',
             fontsize=10.5)

fig.savefig('out.png', dpi=100)
